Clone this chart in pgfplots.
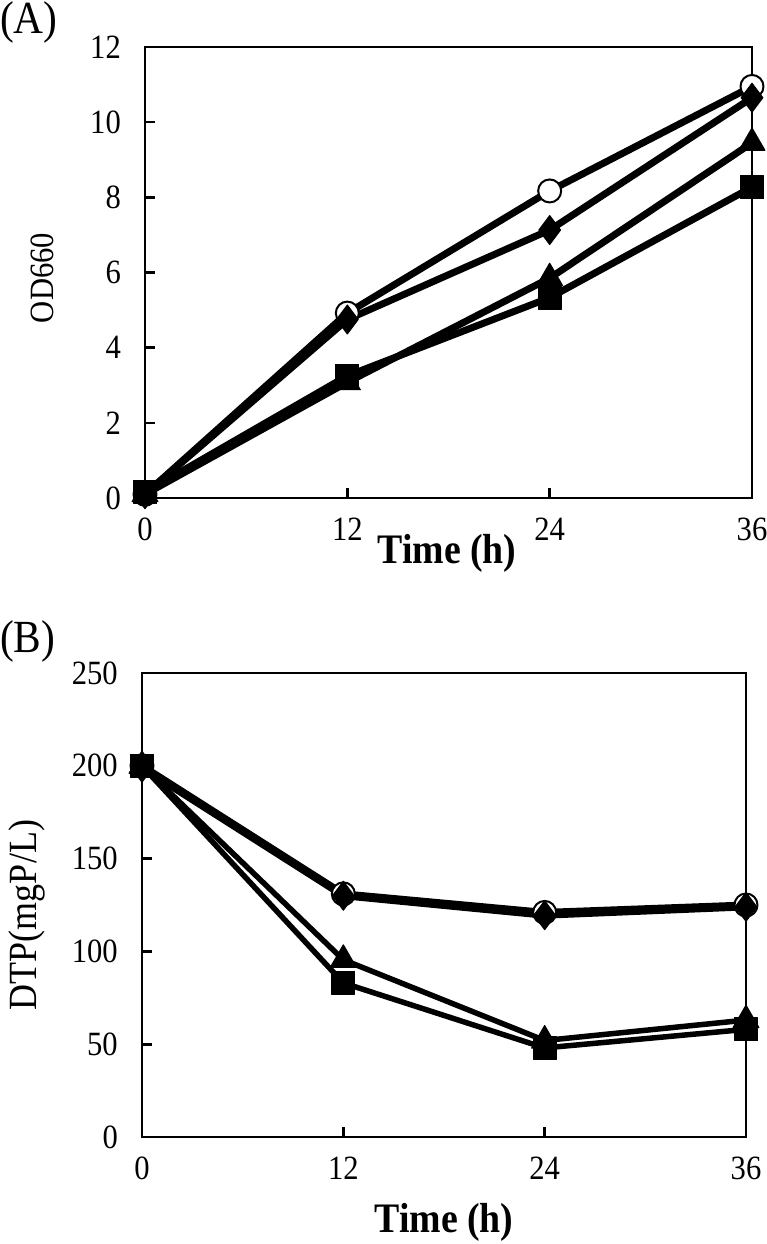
\documentclass[border=0pt]{standalone}
\usepackage{fontspec}
\setmainfont[FakeStretch=0.9]{Liberation Serif}
\usepackage{pgfplots}
\pgfplotsset{compat=1.18}
\pgfplotsset{
  myaxis/.style={
    scale only axis, clip=false,
    axis line style={line width=2.6pt},
    tick style={line width=2.6pt, black},
    major tick length=10pt,
    tick align=inside,
    xtick pos=bottom, ytick pos=left,
    xmin=0, xmax=36, xtick={0,12,24,36},
    /pgf/number format/assume math mode=true,
    yticklabel style={font=\fontsize{34}{38}\selectfont, inner sep=0pt, anchor=east, xshift=-24pt},
    xticklabel style={font=\fontsize{34}{38}\selectfont, inner sep=0pt, anchor=north, yshift=-20pt},
  },
  ser/.style={black, line width=7pt, line join=round},
}
\begin{document}
\begin{tikzpicture}
\useasboundingbox (0,0) rectangle (767pt,-1244pt);
\begin{axis}[myaxis, at={(145pt,-498pt)}, anchor=south west, width=607pt, height=451pt,
  ymin=0, ymax=12, ytick={0,2,...,12}]
\addplot[ser, mark=*, mark size=11.5pt, mark options={fill=white, line width=2pt}] coordinates {(0,0.1)(12,4.92)(24,8.17)(36,10.95)};
\addplot[ser, mark=diamond*, mark size=14.5pt, mark options={line width=1pt}] coordinates {(0,0.1)(12,4.75)(24,7.13)(36,10.65)};
\addplot[ser, mark=triangle*, mark size=15pt, mark options={line width=1pt}] coordinates {(0,0.1)(12,3.08)(24,5.85)(36,9.45)};
\addplot[ser, mark=square*, mark size=11.5pt, mark options={line width=1pt}] coordinates {(0,0.15)(12,3.25)(24,5.33)(36,8.27)};
\end{axis}
\begin{axis}[myaxis, at={(142pt,-1137pt)}, anchor=south west, width=604pt, height=464pt,
  ymin=0, ymax=250, ytick={0,50,...,250}]
\addplot[ser, mark=*, mark size=11.5pt, mark options={fill=white, line width=2pt}] coordinates {(0,200)(12,131)(24,121)(36,125)};
\addplot[ser, mark=diamond*, mark size=14.5pt, mark options={line width=1pt}] coordinates {(0,199)(12,130)(24,119.5)(36,124)};
\addplot[ser, line width=5.5pt, mark=triangle*, mark size=15pt, mark options={line width=1pt}] coordinates {(0,200)(12,95.5)(24,52)(36,63)};
\addplot[ser, line width=5.5pt, mark=square*, mark size=11.5pt, mark options={line width=1pt}] coordinates {(0,200)(12,83)(24,48)(36,58)};
\end{axis}
\node[anchor=base west, inner sep=0pt, font=\fontsize{46}{50}\selectfont] at (0pt,-34pt) {(A)};
\node[anchor=base west, inner sep=0pt, font=\fontsize{46}{50}\selectfont] at (0pt,-652pt) {(B)};
\node[inner sep=0pt, font=\fontsize{42}{46}\selectfont\bfseries] at (447pt,-553pt) {Time (h)};
\node[inner sep=0pt, font=\fontsize{42}{46}\selectfont\bfseries] at (444pt,-1222pt) {Time (h)};
\node[inner sep=0pt, rotate=90, font=\fontsize{34}{38}\selectfont] at (42pt,-278pt) {OD660};
\node[inner sep=0pt, rotate=90, font=\fontsize{40}{44}\selectfont] at (27pt,-915pt) {DTP(mgP/L)};
\end{tikzpicture}
\end{document}
